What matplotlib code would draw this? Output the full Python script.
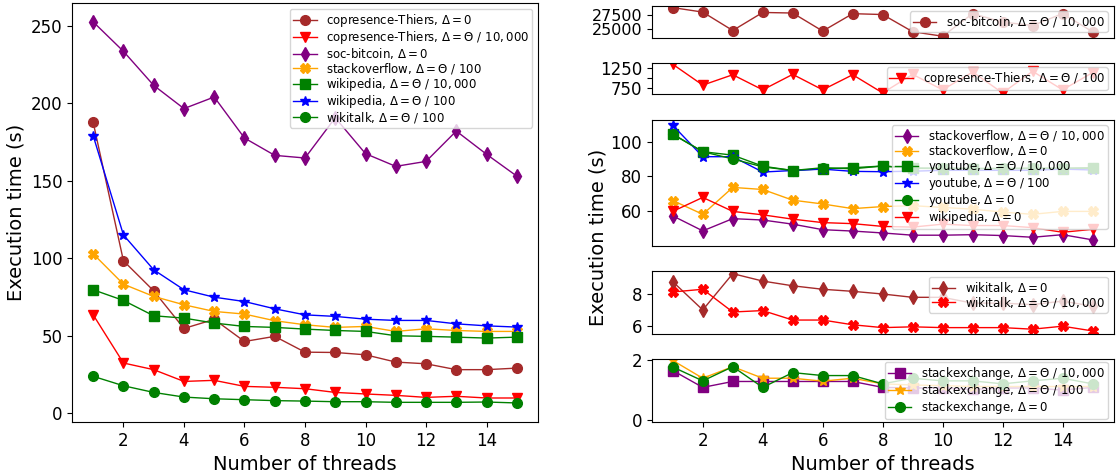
import matplotlib
matplotlib.use("Agg")
from matplotlib import pyplot as plt

threads = list(range(1, 16))

# left panel
copresence_d0 = [187.7, 98.3, 78.9, 54.6, 60.5, 46.2, 49.5, 39.3, 39.1, 37.6, 32.9, 31.8, 28.0, 28.0, 29.0]
copresence_t10000 = [63.4, 32.3, 28.0, 20.4, 21.1, 17.2, 16.6, 15.7, 13.3, 12.3, 11.4, 10.1, 10.8, 9.7, 9.7]
bitcoin_d0 = [252.6, 233.6, 211.6, 196.6, 204.1, 177.6, 166.4, 164.7, 190.7, 167.5, 159.3, 162.5, 182.1, 167.1, 153.0]
stackoverflow_t100 = [102.8, 83.2, 75.3, 69.9, 65.6, 63.9, 59.6, 57.0, 55.3, 55.9, 52.7, 54.4, 53.3, 52.7, 52.7]
wikipedia_t10000 = [79.6, 72.7, 62.8, 61.3, 58.1, 55.9, 55.3, 54.2, 53.3, 52.7, 49.9, 49.5, 49.0, 48.4, 49.0]
wikipedia_t100 = [179.1, 115.0, 92.5, 79.6, 74.8, 72.0, 67.3, 63.4, 62.4, 60.6, 59.8, 59.8, 57.6, 56.3, 55.5]
wikitalk_t100 = [23.7, 17.6, 13.3, 10.3, 9.2, 8.6, 8.0, 7.7, 7.3, 7.3, 6.9, 6.9, 6.9, 7.1, 6.5]

# right panel
bitcoin_t10000 = [28700, 27920, 24740, 27860, 27760, 24640, 27650, 27500, 24530, 23750, 27650, 26200, 25600, 27650, 24530]
copresence_t100 = [1350, 812, 1080, 690, 1090, 690, 1080, 610, 1090, 690, 1150, 610, 1170, 690, 1135]
stackoverflow_t10000 = [57.1, 48.4, 55.5, 54.7, 52.3, 49.1, 48.3, 47.2, 45.9, 45.9, 46.2, 45.7, 44.7, 46.2, 43.2]
stackoverflow_d0 = [66.0, 58.0, 73.6, 72.4, 66.2, 64.0, 61.3, 62.5, 63.0, 62.0, 61.0, 59.3, 58.0, 59.7, 59.7]
youtube_t10000 = [104.4, 94.3, 92.3, 85.9, 83.4, 84.4, 85.0, 86.0, 84.7, 84.5, 84.5, 84.5, 84.5, 84.5, 84.7]
youtube_t100 = [109.6, 91.4, 91.4, 82.5, 83.4, 84.2, 82.9, 82.7, 83.0, 83.5, 83.5, 83.5, 83.5, 84.2, 83.7]
youtube_d0 = [104.5, 94.3, 90.1, 85.5, 83.4, 85.0, 84.4, 86.0, 84.8, 84.8, 84.6, 84.6, 84.8, 84.8, 85.0]
wikipedia_d0 = [59.7, 67.8, 59.7, 57.7, 55.2, 53.2, 52.6, 51.0, 50.6, 52.3, 51.5, 51.5, 50.3, 47.6, 49.3]
wikitalk_d0 = [8.80, 7.01, 9.31, 8.84, 8.54, 8.32, 8.19, 8.02, 7.81, 7.81, 7.44, 7.44, 7.35, 7.57, 7.25]
wikitalk_t10000 = [8.15, 8.32, 6.88, 6.97, 6.37, 6.37, 6.07, 5.89, 5.94, 5.89, 5.89, 5.89, 5.79, 5.98, 5.68]
stackexchange_t10000 = [1.66, 1.09, 1.29, 1.29, 1.29, 1.29, 1.29, 1.09, 1.07, 1.07, 1.02, 1.07, 1.07, 1.00, 1.09]
stackexchange_t100 = [2.00, 1.40, 1.79, 1.40, 1.40, 1.30, 1.40, 1.21, 1.17, 1.15, 1.12, 1.12, 1.12, 1.12, 1.12]
stackexchange_d0 = [1.78, 1.31, 1.79, 1.09, 1.59, 1.49, 1.49, 1.21, 1.40, 1.31, 1.31, 1.21, 1.31, 1.40, 1.21]

D0 = r"$\Delta = 0$"
T100 = r"$\Delta = \Theta$ / $100$"
T10000 = r"$\Delta = \Theta$ / $10,000$"

plt.rcParams["font.size"] = 12
plt.rcParams["lines.linewidth"] = 1.0
plt.rcParams["legend.fontsize"] = 8.5
plt.rcParams["legend.labelspacing"] = 0.0
plt.rcParams["legend.borderpad"] = 0.25

fig = plt.figure(figsize=(11.18, 4.74), dpi=100)

# ---- left panel
ax = fig.add_axes([0.0644, 0.1097, 0.4168, 0.8843])
ax.plot(threads, copresence_d0, color="brown", marker="o", markersize=7, label="copresence-Thiers, " + D0)
ax.plot(threads, copresence_t10000, color="red", marker="v", markersize=7, label="copresence-Thiers, " + T10000)
ax.plot(threads, bitcoin_d0, color="purple", marker="d", markersize=7, label="soc-bitcoin, " + D0)
ax.plot(threads, stackoverflow_t100, color="orange", marker="X", markersize=7, label="stackoverflow, " + T100)
ax.plot(threads, wikipedia_t10000, color="green", marker="s", markersize=7, label="wikipedia, " + T10000)
ax.plot(threads, wikipedia_t100, color="blue", marker="*", markersize=7, label="wikipedia, " + T100)
ax.plot(threads, wikitalk_t100, color="green", marker="o", markersize=7, label="wikitalk, " + T100)
ax.set_xticks([2, 4, 6, 8, 10, 12, 14])
ax.set_yticks([0, 50, 100, 150, 200, 250])
ax.set_xlabel("Number of threads", fontsize=14)
ax.set_ylabel("Execution time (s)", fontsize=14)
ax.legend(loc="upper right")

# ---- right panel
gs = fig.add_gridspec(5, 1, left=0.583, right=0.996, top=0.987, bottom=0.1097,
                      height_ratios=[1, 1, 4, 2, 2], hspace=0.4)
axs = [fig.add_subplot(gs[0])]
for i in range(1, 5):
    axs.append(fig.add_subplot(gs[i], sharex=axs[0]))

a = axs[0]
a.plot(threads, bitcoin_t10000, color="brown", marker="o", markersize=7, label="soc-bitcoin, " + T10000)
a.set_yticks([25000, 27500])
a.tick_params(axis="y", labelsize=11.5)
a.legend(loc="center right")

a = axs[1]
a.plot(threads, copresence_t100, color="red", marker="v", markersize=7, label="copresence-Thiers, " + T100)
a.set_yticks([750, 1000, 1250])
a.set_yticklabels(["750", "", "1250"])
a.legend(loc="center right")

a = axs[2]
a.plot(threads, stackoverflow_t10000, color="purple", marker="d", markersize=7, label="stackoverflow, " + T10000)
a.plot(threads, stackoverflow_d0, color="orange", marker="X", markersize=7, label="stackoverflow, " + D0)
a.plot(threads, youtube_t10000, color="green", marker="s", markersize=7, label="youtube, " + T10000)
a.plot(threads, youtube_t100, color="blue", marker="*", markersize=7, label="youtube, " + T100)
a.plot(threads, youtube_d0, color="green", marker="o", markersize=7, label="youtube, " + D0)
a.plot(threads, wikipedia_d0, color="red", marker="v", markersize=7, label="wikipedia, " + D0)
a.set_yticks([60, 80, 100])
a.legend(loc="upper right")

a = axs[3]
a.plot(threads, wikitalk_d0, color="brown", marker="d", markersize=7, label="wikitalk, " + D0)
a.plot(threads, wikitalk_t10000, color="red", marker="X", markersize=7, label="wikitalk, " + T10000)
a.set_yticks([6, 8])
a.legend(loc="upper right")

a = axs[4]
a.plot(threads, stackexchange_t10000, color="purple", marker="s", markersize=7, label="stackexchange, " + T10000)
a.plot(threads, stackexchange_t100, color="orange", marker="*", markersize=7, label="stackexchange, " + T100)
a.plot(threads, stackexchange_d0, color="green", marker="o", markersize=7, label="stackexchange, " + D0)
a.set_ylim(-0.08, 2.05)
a.set_yticks([0, 2])
a.legend(loc="center right")
a.set_xticks([2, 4, 6, 8, 10, 12, 14])
a.set_xlabel("Number of threads", fontsize=14)

for a in axs[:-1]:
    a.tick_params(labelbottom=False, bottom=False)

fig.text(0.535, 0.5, "Execution time (s)", rotation=90, fontsize=14, ha="center", va="center")

fig.savefig("out.png", dpi=100)
